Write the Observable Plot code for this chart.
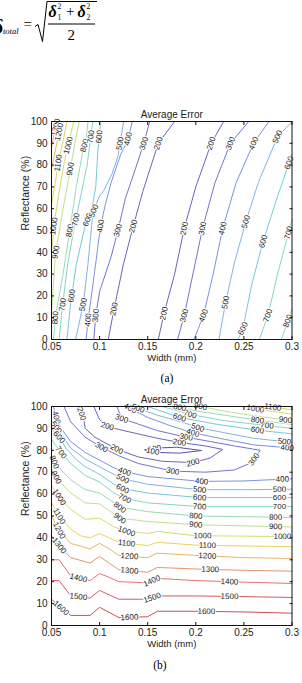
<!DOCTYPE html>
<html><head><meta charset="utf-8">
<script src="https://cdn.jsdelivr.net/npm/d3@7"></script>
<script src="https://cdn.jsdelivr.net/npm/@observablehq/plot@0.6"></script>
<style>
html,body{margin:0;padding:0;background:#fff;}
body{width:302px;height:683px;overflow:hidden;position:relative;font-family:"Liberation Sans",Arial,sans-serif;}
.abs{position:absolute;}
.cap{position:absolute;font-family:"Liberation Serif","Times New Roman",serif;font-size:11.5px;transform:translate(-50%,-50%);}
svg text.f{font-family:"Liberation Serif","Times New Roman",serif;}
</style></head><body>
<svg class="abs" style="left:0;top:0" width="302" height="50">
<text class="f" x="-7" y="34" font-size="20" font-style="italic" font-weight="bold">δ</text>
<text class="f" x="3" y="34" font-size="8.5" font-style="italic">total</text>
<text class="f" x="23.5" y="29" font-size="15">=</text>
<path d="M35,26.5 L38,24.5 L42.5,41.5 L47,1.5 L97,1.5" stroke="#000" fill="none" stroke-width="1"/>
<text class="f" x="48.5" y="17" font-size="16" font-style="italic" font-weight="bold">δ</text>
<text class="f" x="57.5" y="20" font-size="7.5">1</text>
<text class="f" x="57.5" y="9" font-size="7.5">2</text>
<text class="f" x="66" y="16" font-size="15">+</text>
<text class="f" x="77.5" y="17" font-size="16" font-style="italic" font-weight="bold">δ</text>
<text class="f" x="86.5" y="20" font-size="7.5">2</text>
<text class="f" x="86.5" y="9" font-size="7.5">2</text>
<line x1="48" x2="95" y1="24" y2="24" stroke="#000" stroke-width="1"/>
<text class="f" x="67.5" y="39.5" font-size="15">2</text>
</svg>
<div id="pa" class="abs" style="left:0;top:95px"></div>
<div class="cap" style="left:167px;top:378px">(a)</div>
<div id="pb" class="abs" style="left:0;top:380px"></div>
<div class="cap" style="left:160px;top:665px">(b)</div>
<script>
// ---------- data ----------
const xTicks = [0.05, 0.1, 0.15, 0.2, 0.25, 0.3];
const yTicks = [0, 10, 20, 30, 40, 50, 60, 70, 80, 90, 100];
const titleText = "Average Error";
const xLabel = "Width (mm)";
const yLabel = "Reflectance (%)";
const levelStops = [100, 200, 300, 400, 500, 600, 700, 800, 900, 1000, 1100, 1200, 1300, 1400, 1500, 1600];
const levelColors = ["#5a50aa", "#6964be", "#7373d2", "#7d91dc", "#82b4e1", "#78c8d7", "#82d7c8", "#96dcb4",
  "#bee18c", "#d7dc6e", "#e6d264", "#ebb464", "#e6966e", "#e1736e", "#d75a64", "#c8505a"];

// (a) contour lines: [level, [[width, reflectance], ...]]
const contoursA = [
  [200, [[0.109,0],[0.115,14],[0.125,35],[0.135,52],[0.145,68],[0.161,90],[0.178,100]]],
  [200, [[0.161,0],[0.167,12],[0.178,30],[0.188,51],[0.2,70],[0.216,90],[0.229,100]]],
  [300, [[0.094,0],[0.096,11],[0.1,22],[0.112,38],[0.119,50],[0.127,65],[0.137,78],[0.146,90],[0.152,100]]],
  [300, [[0.181,0],[0.188,11],[0.197,30],[0.207,51],[0.22,72],[0.236,90],[0.255,100]]],
  [400, [[0.086,0],[0.088,9],[0.093,25],[0.101,52],[0.106,62],[0.112,72],[0.122,85],[0.129,91],[0.134,100]]],
  [400, [[0.198,0],[0.208,11],[0.218,30],[0.228,51],[0.242,72],[0.26,90],[0.276,100]]],
  [500, [[0.075,0],[0.083,16],[0.088,35],[0.093,58],[0.1,66],[0.104,68],[0.113,76],[0.119,84],[0.122,92],[0.125,100]]],
  [500, [[0.224,0],[0.231,17],[0.24,35],[0.252,54],[0.265,72],[0.285,93],[0.3,100]]],
  [600, [[0.066,0],[0.07,17],[0.076,35],[0.085,52],[0.092,60],[0.096,70],[0.098,85],[0.101,100]]],
  [600, [[0.244,0],[0.249,5],[0.258,25],[0.27,45],[0.283,63],[0.3,85]]],
  [700, [[0.058,0],[0.061,14],[0.067,35],[0.073,50],[0.08,65],[0.087,80],[0.09,90],[0.093,100]]],
  [700, [[0.266,0],[0.275,11],[0.285,30],[0.3,55]]],
  [800, [[0.052,0],[0.054,10],[0.062,30],[0.069,50],[0.075,68],[0.082,85],[0.086,92],[0.088,100]]],
  [800, [[0.289,0],[0.3,14]]],
  [900, [[0.05,12],[0.054,39],[0.062,60],[0.07,79],[0.075,92],[0.079,100]]],
  [1000, [[0.05,36],[0.052,51],[0.058,68],[0.064,83],[0.068,90],[0.073,100]]],
  [1100, [[0.05,62],[0.054,72],[0.057,81],[0.062,91],[0.066,100]]],
  [1200, [[0.05,78],[0.056,91],[0.06,100]]],
  [1300, [[0.05,88],[0.053,95],[0.056,100]]]
];
// (a) contour labels: [level, width, reflectance]
const labelsA = [
  [1300,0.057,97],[1200,0.06,95],[1100,0.057,81],[1000,0.068,89],[900,0.072,78],[800,0.084,89],
  [700,0.091,93],[600,0.1,93],[500,0.12,90],[400,0.13,92],[300,0.146,90],[200,0.161,90],
  [1000,0.052,52],[900,0.055,40],[800,0.069,50],[700,0.075,55],[600,0.087,55],[500,0.094,59],
  [400,0.101,52],[300,0.119,50],[200,0.135,52],
  [800,0.054,10],[700,0.062,16],[600,0.071,20],[500,0.083,16],[400,0.088,9],[300,0.096,11],[200,0.115,14],
  [200,0.167,12],[300,0.188,11],[400,0.208,11],[500,0.231,17],[600,0.249,5],[700,0.275,11],[800,0.299,8],
  [200,0.188,51],[300,0.207,51],[400,0.228,51],[500,0.252,54],[600,0.27,45],[700,0.296,49],
  [200,0.216,90],[300,0.236,90],[400,0.26,90],[500,0.285,93],[600,0.297,81]
];

// (b) contour lines
const contoursB = [
  [100, [[0.147,80.2],[0.1625,81.1],[0.18,81.4],[0.206,79.9],[0.183,78.7],[0.1625,79],[0.147,80.2]]],
  [200, [[0.078,100],[0.081,97],[0.084,93],[0.085,90],[0.095,86],[0.118,80.5],[0.14,77],[0.165,75],[0.197,74.4],[0.215,76.5],[0.228,80.4],[0.21,82],[0.183,83.6],[0.16,85.5],[0.14,87.5],[0.12,89.5],[0.108,91],[0.1,94],[0.094,100]]],
  [300, [[0.063,100],[0.07,93],[0.085,86],[0.102,81.4],[0.12,77.5],[0.14,74],[0.176,70.5],[0.21,70],[0.24,71],[0.258,74.4],[0.267,80],[0.24,82],[0.215,84],[0.19,86],[0.16,89],[0.14,92],[0.123,94.5],[0.118,100]]],
  [400, [[0.052,100],[0.055,95],[0.06,90],[0.07,84],[0.085,79],[0.1,75.5],[0.115,72],[0.126,70.3],[0.15,68],[0.206,65.8],[0.25,66],[0.3,67]]],
  [400, [[0.128,100],[0.15,95],[0.175,91],[0.197,88],[0.23,85],[0.26,82.5],[0.3,81]]],
  [500, [[0.05,93.5],[0.055,90.5],[0.06,87.5],[0.07,81],[0.085,76],[0.1,72.5],[0.115,69],[0.124,67],[0.15,64.5],[0.204,62],[0.25,62],[0.3,62.2]]],
  [500, [[0.135,100],[0.16,96],[0.185,93],[0.202,90.4],[0.23,88],[0.26,85.5],[0.3,83.6]]],
  [600, [[0.05,90],[0.058,86],[0.065,81],[0.075,76],[0.085,72.5],[0.1,69],[0.115,64.5],[0.124,62.5],[0.15,60.5],[0.204,58.4],[0.25,58.4],[0.3,58.4]]],
  [600, [[0.15,100],[0.183,95],[0.22,92],[0.264,89.2],[0.3,87.5]]],
  [700, [[0.05,85],[0.06,79],[0.07,74],[0.085,68.5],[0.1,65.5],[0.115,60.5],[0.126,58],[0.15,56],[0.204,54.3],[0.25,54.3],[0.3,54.3]]],
  [700, [[0.165,100],[0.194,96.4],[0.23,93.5],[0.264,91.8],[0.3,90]]],
  [800, [[0.05,78],[0.053,74.6],[0.06,71],[0.07,66.5],[0.085,62],[0.1,60.5],[0.115,56],[0.121,54],[0.15,52],[0.2,50],[0.25,49.7],[0.3,49.3]]],
  [800, [[0.178,100],[0.2,98],[0.23,96],[0.264,93.8],[0.3,91.8]]],
  [900, [[0.05,72],[0.055,67.7],[0.06,65],[0.07,60.5],[0.085,56],[0.1,55.5],[0.115,51],[0.121,49],[0.15,47.5],[0.2,46],[0.25,45.5],[0.3,45]]],
  [900, [[0.205,100],[0.235,97.5],[0.265,95.5],[0.3,93.5]]],
  [1000, [[0.05,64],[0.058,58.6],[0.07,53],[0.085,48.5],[0.1,49],[0.115,45],[0.128,43],[0.15,42],[0.16,43],[0.2,41],[0.25,40.8],[0.3,40.6]]],
  [1000, [[0.25,100],[0.264,98.8],[0.3,96.5]]],
  [1100, [[0.05,56],[0.058,50],[0.07,44],[0.08,41],[0.09,40],[0.1,42],[0.11,40],[0.12,38],[0.15,36.5],[0.16,38],[0.2,36.7],[0.25,36.3],[0.3,36]]],
  [1100, [[0.275,100],[0.3,98.5]]],
  [1200, [[0.05,50],[0.058,43.4],[0.07,37.5],[0.09,35],[0.1,37.5],[0.11,35],[0.12,32],[0.15,31],[0.16,33],[0.2,32],[0.25,31],[0.3,30.6]]],
  [1300, [[0.05,41],[0.058,36.5],[0.07,31],[0.09,28.5],[0.1,31.5],[0.11,28.5],[0.12,25.5],[0.15,24.3],[0.16,26.5],[0.2,25.8],[0.25,25.2],[0.3,24.8]]],
  [1400, [[0.05,30],[0.058,30],[0.07,22.5],[0.09,20.5],[0.1,23.7],[0.11,22],[0.12,20],[0.15,19.5],[0.16,21.5],[0.2,20.5],[0.25,19.8],[0.3,19.2]]],
  [1500, [[0.05,20.5],[0.058,20.5],[0.07,13.5],[0.09,12.5],[0.1,16],[0.11,14],[0.12,12],[0.15,12],[0.16,13.5],[0.2,13.5],[0.25,13.2],[0.3,12.8]]],
  [1600, [[0.05,12],[0.06,8],[0.07,4.6],[0.09,4.6],[0.1,8.3],[0.11,6],[0.12,3.6],[0.15,4],[0.16,6.5],[0.2,6.5],[0.25,6.2],[0.3,5.6]]]
];
const labelsB = [
  [100,0.157,81.2],[100,0.155,79.1],
  [200,0.082,96.8],[200,0.108,91],[200,0.118,80.7],[200,0.183,83.6],[200,0.197,74.6],
  [300,0.102,81.4],[300,0.123,94.5],[300,0.176,70.5],[300,0.19,86],[300,0.26,76],
  [400,0.055,95],[400,0.126,70.3],[400,0.206,65.8],[400,0.197,88],[400,0.29,66.8],[400,0.295,81.3],[400,0.131,98.5],
  [500,0.055,90.5],[500,0.124,67],[500,0.204,62],[500,0.202,90.4],[500,0.287,62.2],[500,0.292,84],[500,0.14,99.2],
  [600,0.058,86],[600,0.124,62.5],[600,0.204,58.4],[600,0.183,95],[600,0.264,89.2],[600,0.287,58.4],
  [700,0.06,79],[700,0.126,58],[700,0.204,54.3],[700,0.194,96.4],[700,0.274,91.3],[700,0.287,54.3],
  [800,0.053,74.6],[800,0.121,54],[800,0.2,50],[800,0.183,99],[800,0.264,93.8],[800,0.283,49.5],
  [900,0.055,67.7],[900,0.121,49],[900,0.2,46],[900,0.203,99.5],[900,0.293,93.5],[900,0.283,45.2],
  [1000,0.058,58.6],[1000,0.128,43],[1000,0.207,41],[1000,0.29,40.7],[1000,0.262,99],
  [1100,0.058,50],[1100,0.128,37.5],[1100,0.212,36.6],[1100,0.28,99.4],
  [1200,0.058,43.4],[1200,0.131,31.6],[1200,0.212,31.8],
  [1300,0.058,36.5],[1300,0.131,25],[1300,0.215,25.6],
  [1400,0.078,21.8],[1400,0.155,19.6],[1400,0.235,20],
  [1500,0.078,13.3],[1500,0.155,12.2],[1500,0.235,13.2],
  [1600,0.06,8],[1600,0.131,3.8],[1600,0.211,6.5]
];

// ---------- drawing ----------
function makeChart(contours, labels, H, mt, mb) {
  const W = 302, ml = 51, mr = 10.5;
  const X0 = xTicks[0], X1 = xTicks[xTicks.length - 1];
  const fx = (W - ml - mr) / (X1 - X0), fy = (H - mt - mb) / 100;
  const rows = contours.flatMap(([level, pts], i) => pts.map(([x, y]) => ({id: i, level, x, y})));
  const lab = labels.map(([level, x, y]) => {
    let best = null;
    for (const [lv, pts] of contours) {
      if (lv !== level) continue;
      for (let k = 0; k < pts.length - 1; k++) {
        const ax = pts[k][0] * fx, ay = -pts[k][1] * fy, bx = pts[k + 1][0] * fx, by = -pts[k + 1][1] * fy;
        const px = x * fx, py = -y * fy;
        const dx = bx - ax, dy = by - ay, L2 = dx * dx + dy * dy || 1;
        const t = Math.max(0, Math.min(1, ((px - ax) * dx + (py - ay) * dy) / L2));
        const qx = ax + t * dx, qy = ay + t * dy, d2 = (qx - px) ** 2 + (qy - py) ** 2;
        if (!best || d2 < best.d2) {
          let ang = Math.atan2(dy, dx) * 180 / Math.PI;
          if (ang > 90) ang -= 180; if (ang <= -90) ang += 180;
          best = {d2, x: qx / fx, y: -qy / fy, angle: ang, level};
        }
      }
    }
    return best;
  });
  return Plot.plot({
    width: W, height: H, marginTop: mt, marginBottom: mb, marginLeft: ml, marginRight: mr,
    x: {domain: [X0, X1]},
    y: {domain: [yTicks[0], yTicks[yTicks.length - 1]]},
    color: {type: "linear", domain: levelStops, range: levelColors},
    style: {fontFamily: "'Liberation Sans', Arial, sans-serif", fontSize: "10px", background: "transparent", color: "#222"},
    marks: [
      Plot.line(rows, {x: "x", y: "y", z: "id", stroke: "level", strokeWidth: 1}),
      Plot.text(lab, {x: "x", y: "y", text: d => String(d.level), rotate: "angle", fill: "#1a1a1a",
        stroke: "white", strokeWidth: 2, paintOrder: "stroke", fontSize: 8}),
      Plot.frame({stroke: "#111", strokeWidth: 1}),
      Plot.axisX(xTicks, {anchor: "bottom", tickSize: -3, tickPadding: 6.5, tickFormat: d => String(d), label: null, stroke: "#111", fill: "#222", fontSize: 10}),
      Plot.axisX(xTicks, {anchor: "top", tickSize: -3, tickFormat: () => "", label: null, stroke: "#111"}),
      Plot.axisY(yTicks, {anchor: "left", tickSize: -3, tickPadding: 7, tickFormat: d => String(d), label: null, stroke: "#111", fill: "#222", fontSize: 10}),
      Plot.axisY(yTicks, {anchor: "right", tickSize: -3, tickFormat: () => "", label: null, stroke: "#111"}),
      Plot.text([titleText], {text: d => d, frameAnchor: "top", dy: -11, fontSize: 10, fill: "#222"}),
      Plot.text([xLabel], {text: d => d, frameAnchor: "bottom", dy: 21, fontSize: 9.5, fill: "#222"}),
      Plot.text([yLabel], {text: d => d, frameAnchor: "left", dx: -26, rotate: -90, fontSize: 10.5, fill: "#222"})
    ]
  });
}

document.getElementById("pa").append(makeChart(contoursA, labelsA, 285, 26, 41));
document.getElementById("pb").append(makeChart(contoursB, labelsB, 285, 26, 40));
</script>
</body></html>
